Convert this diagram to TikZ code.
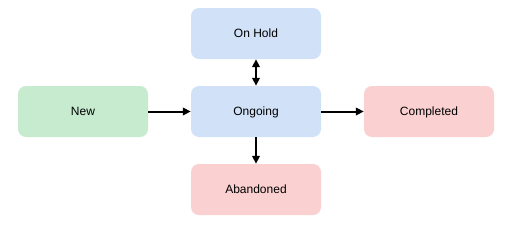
\documentclass[tikz,border=0pt]{standalone}
\usepackage{fontspec}
\setmainfont{Liberation Sans}
\usepackage{xcolor}
\usepackage{tikz}
\usetikzlibrary{arrows.meta,positioning}
\definecolor{newgreen}{HTML}{C6EBCF}
\definecolor{holdblue}{HTML}{D1E1F7}
\definecolor{endred}{HTML}{FAD0D0}
\tikzset{
state/.style={rounded corners=8pt,minimum width=130pt,minimum height=51pt,inner sep=0pt,text depth=1pt,font=\fontsize{12}{14}\selectfont},
flow/.style={line width=2pt,-{Triangle[length=8pt,width=7.5pt]}}
}
\begin{document}
\begin{tikzpicture}[x=1pt,y=1pt]
\useasboundingbox (0,0) rectangle (513,226);
\node[state,fill=newgreen](new) at (83,114.5){New};
\node[state,fill=holdblue](ongoing) at (256,114.5){Ongoing};
\node[state,fill=endred](completed) at (429,114.5){Completed};
\node[state,fill=holdblue](onhold) at (256,192.5){On Hold};
\node[state,fill=endred](abandoned) at (256,36.5){Abandoned};
\draw[flow](new)--(ongoing);
\draw[flow](ongoing)--(completed);
\draw[flow](ongoing)--(abandoned);
\draw[flow,{Triangle[length=8pt,width=7.5pt]}-{Triangle[length=8pt,width=7.5pt]}](ongoing)--(onhold);
\end{tikzpicture}
\end{document}
